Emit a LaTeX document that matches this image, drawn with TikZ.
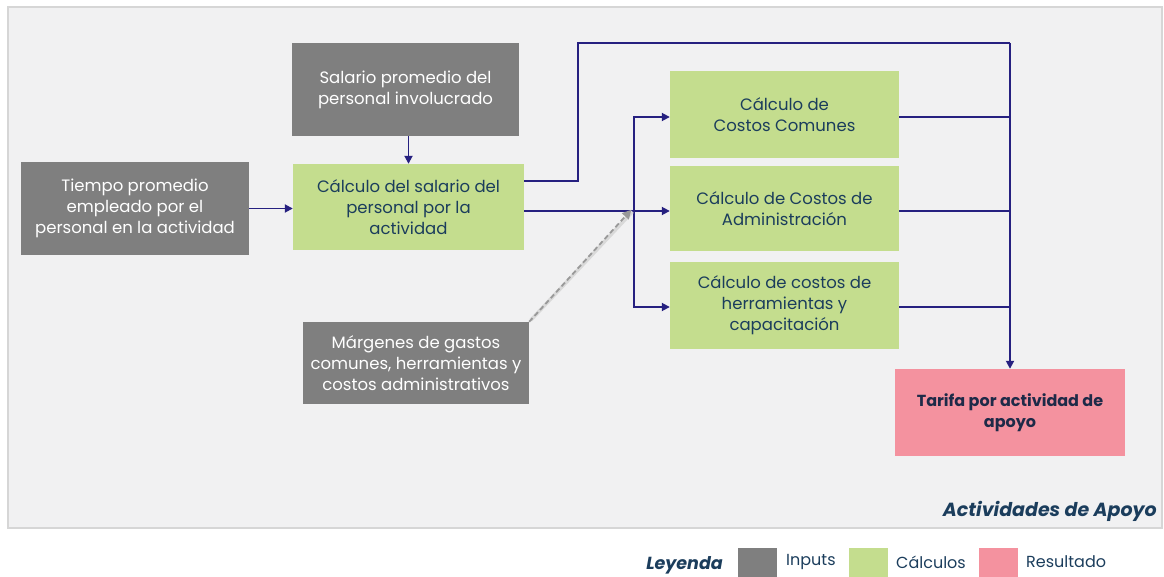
\documentclass[tikz,border=0pt]{standalone}
\usepackage{fontspec}
\setmainfont{Poppins}
\usetikzlibrary{arrows.meta,calc}
\definecolor{inpc}{HTML}{7F7F7F}
\definecolor{calcg}{HTML}{C4DD8E}
\definecolor{resc}{HTML}{F4929F}
\definecolor{arrc}{HTML}{262080}
\definecolor{ctext}{HTML}{1B3D5C}
\definecolor{rtext}{HTML}{1E2A48}
\definecolor{panelbg}{HTML}{F1F1F2}
\definecolor{panelbd}{HTML}{D6D6D6}
\begin{document}
\begin{tikzpicture}[x=1pt,y=-1pt,
  box/.style={rectangle, inner sep=0pt, align=center, font=\fontsize{16.5}{21}\selectfont},
  inbox/.style={box, fill=inpc, text=white},
  calbox/.style={box, fill=calcg, text=ctext},
  resbox/.style={box, fill=resc, text=rtext, font=\fontsize{16}{21}\selectfont\bfseries},
  flow/.style={draw=arrc, line width=1.8pt},
  tip/.style={-{Triangle[length=8pt,width=8pt]}},
  legsq/.style={rectangle, inner sep=0pt, minimum width=39pt, minimum height=30pt},
  legtx/.style={anchor=west, text=ctext, font=\fontsize{16}{18}\selectfont, inner sep=0pt}
]
\useasboundingbox (0,0) rectangle (1164,577);
% panel
\draw[fill=panelbg, draw=panelbd, line width=1.6pt] (8,7) rectangle (1162,528);

% nodes
\node[inbox, minimum width=227pt, minimum height=93pt] (sal) at (405.5,89.5) {Salario promedio del\\personal involucrado};
\node[inbox, minimum width=228pt, minimum height=93pt] (tiempo) at (135,208.5) {Tiempo promedio\\empleado por el\\personal en la actividad};
\node[calbox, minimum width=231pt, minimum height=86pt] (calc) at (408.5,207) {Cálculo del salario del\\personal por la\\actividad};
\node[inbox, minimum width=226pt, minimum height=82pt] (marg) at (416,363) {Márgenes de gastos\\comunes, herramientas y\\costos administrativos};
\node[calbox, minimum width=229pt, minimum height=87pt] (com) at (784.5,114.5) {Cálculo de\\Costos Comunes};
\node[calbox, minimum width=229pt, minimum height=85pt] (adm) at (784.5,208.5) {Cálculo de Costos de\\Administración};
\node[calbox, minimum width=229pt, minimum height=87pt] (herr) at (784.5,305.5) {Cálculo de costos de\\herramientas y\\capacitación};
\node[resbox, minimum width=230pt, minimum height=87pt] (tarifa) at (1010,412.5) {Tarifa por actividad de\\apoyo};

% helper coordinates
\coordinate (tl) at (578,43);
\coordinate (tr) at (1010,43);
\coordinate (split) at (634,211);

% connectors
\draw[flow, tip] (tiempo.east) -- (tiempo.east -| calc.west);
\draw[flow, tip] (calc.north |- sal.south) -- (calc.north);
\draw[flow] ([yshift=26pt]calc.east) -| (tl) -- (tr);
\draw[flow, tip] (tr) -- (tarifa.north);
\draw[flow, tip] ([yshift=-4pt]calc.east) -- ([yshift=-2.5pt]adm.west);
\draw[flow, tip] (split) |- ([yshift=-2.5pt]com.west);
\draw[flow, tip] (split) |- ([yshift=-1.5pt]herr.west);
\draw[flow] ([yshift=-2.5pt]com.east) -- ([yshift=-2.5pt]com.east -| tr);
\draw[flow] ([yshift=-2.5pt]adm.east) -- ([yshift=-2.5pt]adm.east -| tr);
\draw[flow] ([yshift=-1.5pt]herr.east) -- ([yshift=-1.5pt]herr.east -| tr);

% dashed grey connector
\draw[draw=white!85!black, line width=3.5pt, shorten >=3pt] ([shift={(1.5,-1.5)}]marg.north east) -- ([shift={(0.5,-1.5)}]split);
\draw[draw=black!40, line width=1.8pt, dashed, dash pattern=on 5pt off 3pt, -{Triangle[length=9pt,width=9pt]}, shorten >=1pt] (marg.north east) -- ([xshift=-2pt, yshift=2pt]split);

% panel title
\node[anchor=east, text=ctext, font=\fontsize{19}{22}\selectfont\bfseries\itshape, inner sep=0pt] (title) at (1157,511) {Actividades de Apoyo};

% legend
\node[anchor=east, text=ctext, font=\fontsize{17.5}{20}\selectfont\bfseries\itshape, inner sep=0pt] (ley) at (723,565) {Leyenda};
\node[legsq, fill=inpc] (lgi) at (757.5,562.5) {};
\node[legtx] (lti) at (786,562) {Inputs};
\node[legsq, fill=calcg] (lgc) at (868,562.5) {};
\node[legtx] (ltc) at (896,562) {Cálculos};
\node[legsq, fill=resc] (lgr) at (998,562.5) {};
\node[legtx] (ltr) at (1026,562) {Resultado};
\end{tikzpicture}
\end{document}
